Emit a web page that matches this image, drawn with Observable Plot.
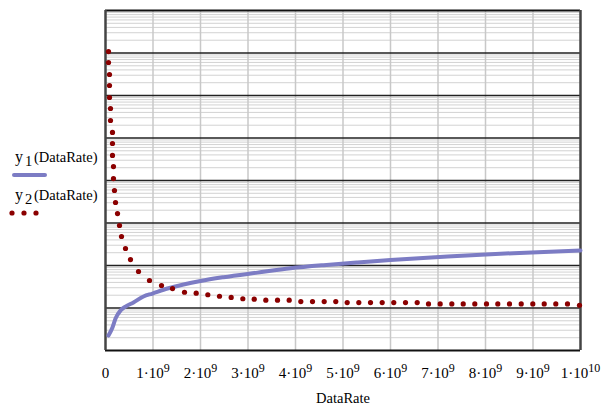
<!DOCTYPE html>
<html><head><meta charset="utf-8">
<script src="https://cdn.jsdelivr.net/npm/d3@7"></script>
<script src="https://cdn.jsdelivr.net/npm/@observablehq/plot@0.6"></script>
<style>body{margin:0;background:#fff}</style>
</head><body><div id="chart"></div>
<script>
const xTicks = [0, 1e9, 2e9, 3e9, 4e9, 5e9, 6e9, 7e9, 8e9, 9e9, 1e10];
const xTickLabels = ["0", "1·10^9", "2·10^9", "3·10^9", "4·10^9", "5·10^9", "6·10^9", "7·10^9", "8·10^9", "9·10^9", "1·10^10"];
const yMajor = [1, 1e1, 1e2, 1e3, 1e4, 1e5, 1e6, 1e7, 1e8];

const y1Rate = [0.063e9, 0.147e9, 0.211e9, 0.316e9, 0.421e9, 0.589e9, 0.8e9, 0.989e9, 1.305e9, 1.642e9, 2.0e9, 2.484e9, 3.2e9, 3.895e9, 4.589e9, 5.305e9, 6.0e9, 7.2e9, 8.589e9, 1e10];
const y1Value = [2.25, 3.48, 5.66, 8.73, 10.8, 13.5, 18.7, 21.9, 28.7, 35.7, 43.2, 53, 68, 86, 102, 118, 134, 163, 195, 225];

const y2Rate = [0.063e9, 0.063e9, 0.084e9, 0.084e9, 0.084e9, 0.105e9, 0.105e9, 0.147e9, 0.147e9, 0.147e9, 0.168e9, 0.168e9, 0.189e9, 0.211e9, 0.253e9, 0.295e9, 0.337e9, 0.421e9, 0.526e9, 0.695e9, 0.926e9, 1.179e9, 1.411e9, 1.663e9,
  1.909e9, 2.154e9, 2.4e9, 2.646e9, 2.891e9, 3.131e9, 3.375e9, 3.621e9, 3.867e9, 4.112e9, 4.358e9, 4.604e9, 4.848e9,
  5.088e9, 5.333e9, 5.579e9, 5.825e9, 6.069e9, 6.316e9, 6.562e9,
  6.8e9, 7.046e9, 7.291e9, 7.531e9, 7.775e9, 8.021e9, 8.259e9, 8.505e9, 8.752e9, 8.996e9, 9.236e9, 9.48e9, 9.726e9, 9.979e9];
const y2Value = [1.08e7, 5.97e6, 3.12e6, 1.72e6, 8.97e5, 4.94e5, 2.58e5, 1.35e5, 7.43e4, 3.88e4, 2.13e4, 1.11e4, 5.82e3, 3.04e3, 1.67e3, 873, 481, 251, 138, 72.3, 44.4, 33.8, 28.7, 23.5,
  22.3, 20.5, 18.9, 17.7, 16.5, 16.1, 15.3, 15.3, 15.3, 14.2, 14.2, 14.2, 14.2,
  13.4, 13.4, 13.4, 13.4, 13.4, 13.4, 13.4,
  12.5, 12.5, 12.5, 12.5, 12.5, 12.5, 12.5, 12.5, 12.5, 12.5, 12.5, 12.5, 12.5, 11.6];

const y1 = y1Rate.map((r, i) => ({rate: r, value: y1Value[i]}));
const y2 = y2Rate.map((r, i) => ({rate: r, value: y2Value[i]}));
const yMinor = [];
for (const d of yMajor.slice(0, -1)) for (let m = 2; m <= 9; m++) yMinor.push(m * d);

const BLUE = "#7c7cc4", RED = "#8b0000";
const SERIF = "'Liberation Serif', 'Times New Roman', serif";

const plot = Plot.plot({
  width: 612, height: 410,
  marginLeft: 105, marginRight: 32, marginTop: 10, marginBottom: 60,
  style: {fontFamily: SERIF, fontSize: "14.5px", color: "black", background: "white"},
  x: {domain: [0, 1e10]},
  y: {type: "log", domain: [1, 1e8], axis: null},
  marks: [
    Plot.ruleY(yMinor, {stroke: "#d2d2d2", strokeWidth: 1}),
    Plot.ruleX(xTicks.slice(1, -1), {stroke: "#c8c8c8", strokeWidth: 1.5}),
    Plot.ruleY(yMajor.slice(1, -1), {stroke: "#222", strokeWidth: 1.5}),
    Plot.ruleY([yMajor[0], yMajor[yMajor.length - 1]], {stroke: "#111", strokeWidth: 2}),
    Plot.ruleX([xTicks[0], xTicks[xTicks.length - 1]], {stroke: "#444", strokeWidth: 2.5}),
    Plot.axisX({ticks: xTicks, tickFormat: d => xTickLabels[xTicks.indexOf(d)], tickSize: 0, tickPadding: 16.5, label: null, fontSize: 15}),
    Plot.text(["DataRate"], {text: d => d, frameAnchor: "bottom", lineAnchor: "middle", dy: 48}),
    Plot.line(y1, {x: "rate", y: "value", stroke: BLUE, strokeWidth: 4, curve: "monotone-x"}),
    Plot.dot(y2, {x: "rate", y: "value", r: 2.6, fill: RED, stroke: "none"})
  ]
});

// superscripts in tick labels
plot.querySelectorAll('g[aria-label="x-axis tick label"] text').forEach(t => {
  const s = t.textContent;
  if (s.includes("^")) {
    const [base, exp] = s.split("^");
    t.textContent = "";
    const ns = "http://www.w3.org/2000/svg";
    const a = document.createElementNS(ns, "tspan"); a.textContent = base; t.appendChild(a);
    const b = document.createElementNS(ns, "tspan"); b.textContent = exp;
    b.setAttribute("dy", "-5.5"); b.setAttribute("font-size", "12px"); t.appendChild(b);
  }
});

// legend
const svg = d3.select(plot);
const lg = svg.append("g").attr("font-family", SERIF).attr("fill", "black").attr("text-anchor", "start");
[["1", 162], ["2", 200]].forEach(([sub, base]) => {
  lg.append("text").attr("x", 15).attr("y", base).attr("font-size", "16px").text("y");
  lg.append("text").attr("x", 25).attr("y", base + 4).attr("font-size", "14.5px").text(sub);
  lg.append("text").attr("x", 34).attr("y", base).attr("font-size", "14.5px").text("(DataRate)");
});
lg.append("line").attr("x1", 14).attr("x2", 45).attr("y1", 175).attr("y2", 175)
  .attr("stroke", BLUE).attr("stroke-width", 4).attr("stroke-linecap", "round");
[12, 24, 36].forEach(cx => lg.append("circle").attr("cx", cx).attr("cy", 213).attr("r", 2.6).attr("fill", RED));

document.getElementById("chart").appendChild(plot);
</script>
</body></html>
